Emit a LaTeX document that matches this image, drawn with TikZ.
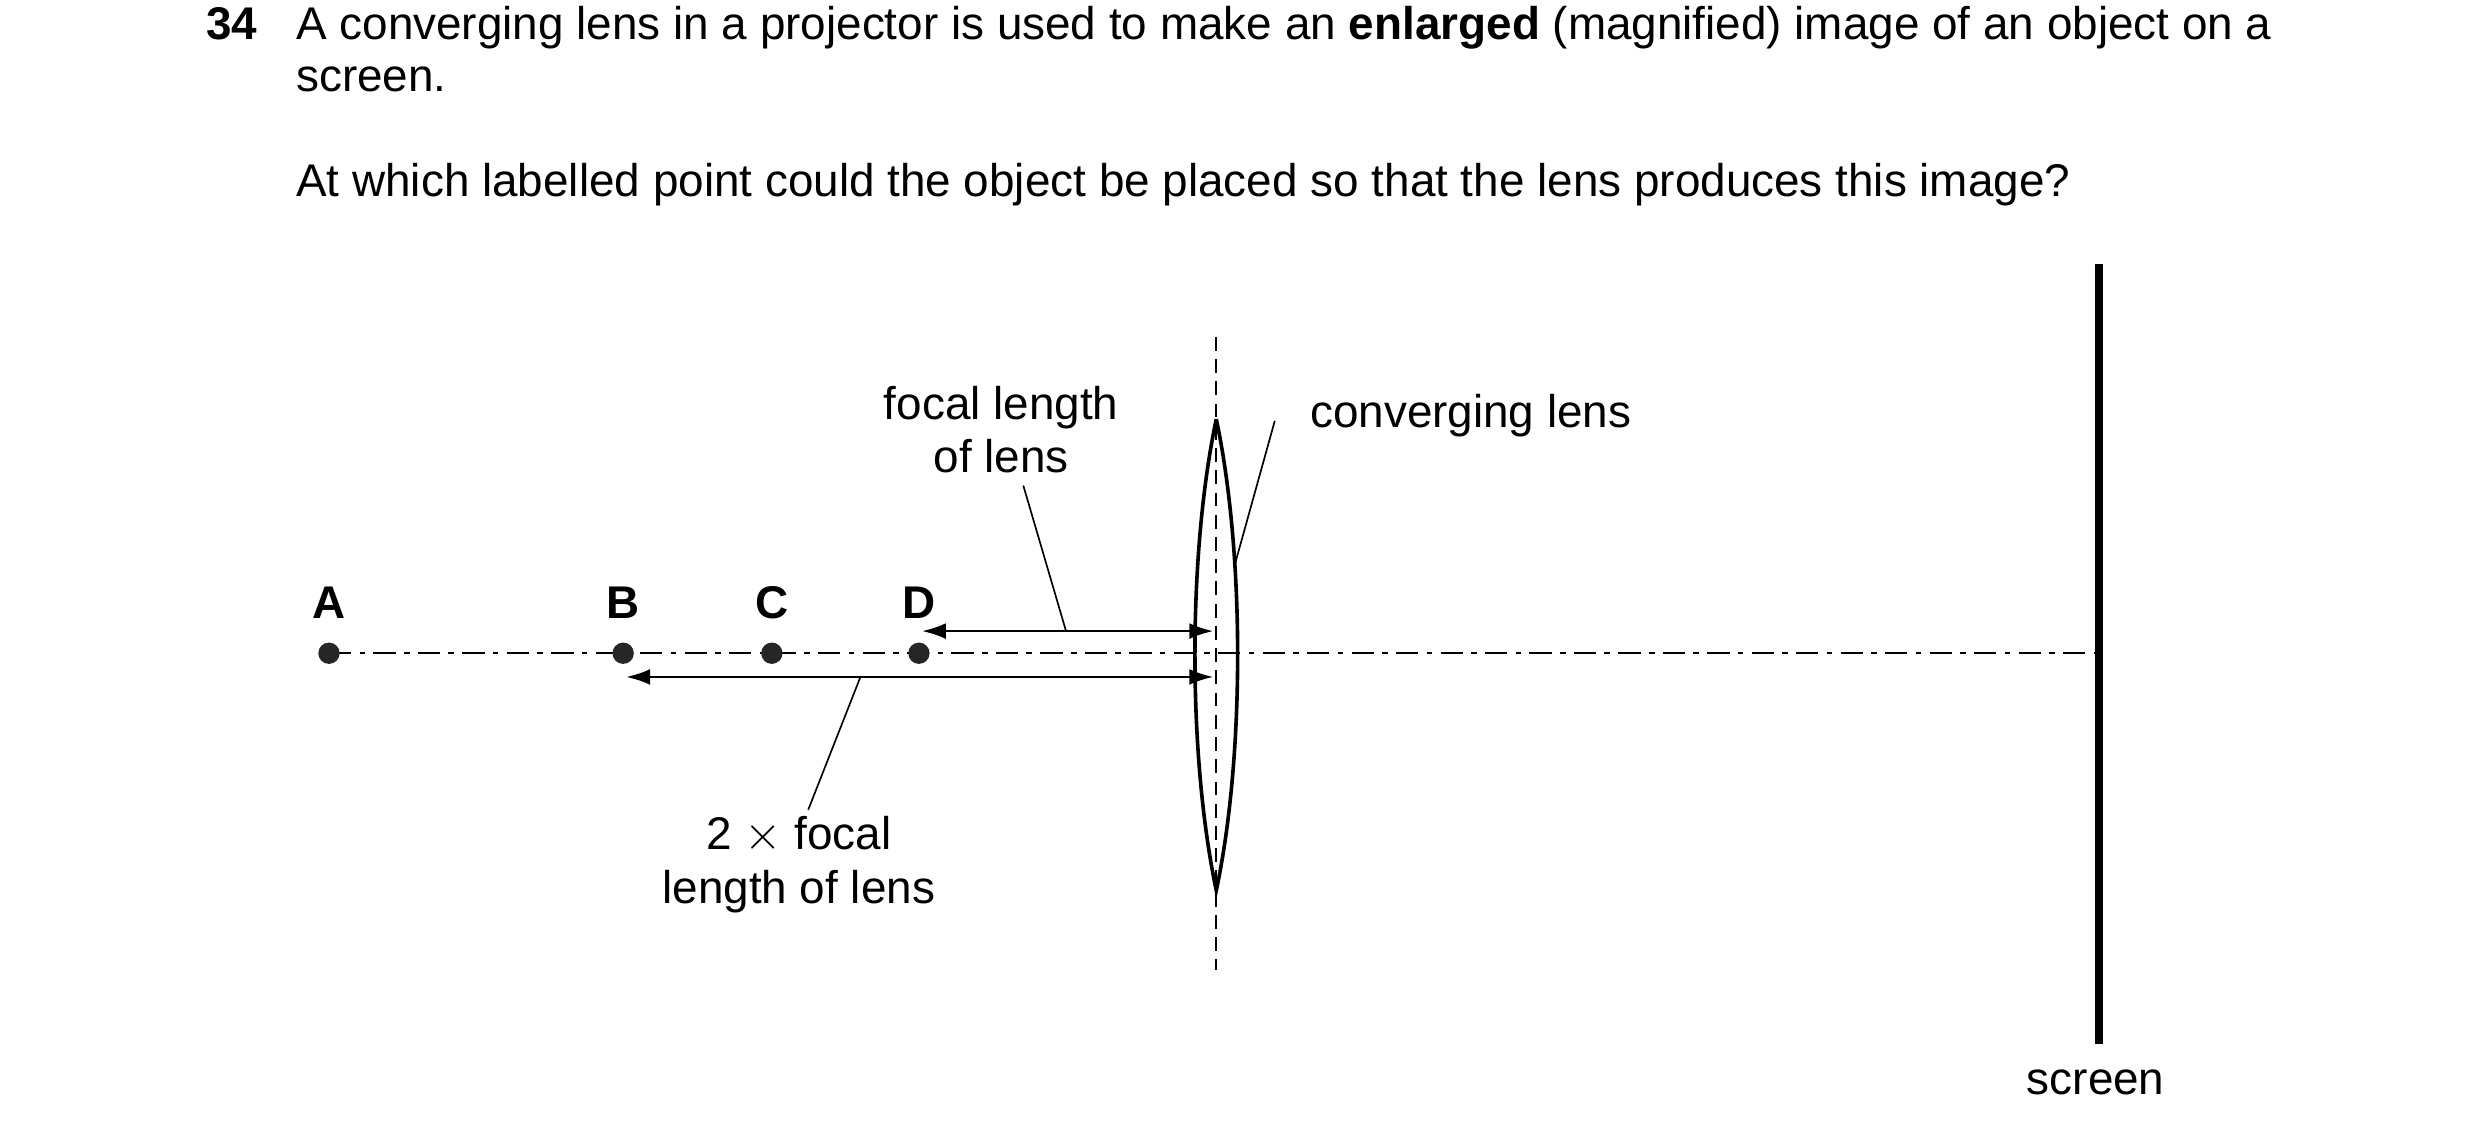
\documentclass[tikz,border=0pt]{standalone}
\usepackage{fontspec}
\setmainfont{Liberation Sans}
\usetikzlibrary{arrows.meta}
\begin{document}
\begin{tikzpicture}[x=0.02cm,y=-0.02cm,
  txt/.style={font=\fontsize{16.5}{19.3}\selectfont, inner sep=0pt},
  lbl/.style={font=\fontsize{16.5}{19.3}\selectfont\bfseries, inner sep=0pt},
  dot/.style={circle, fill=black!85, inner sep=0pt, minimum size=0.27cm},
  dim/.style={line width=0.8pt, {Latex[length=0.3cm,width=0.2cm]}-{Latex[length=0.3cm,width=0.2cm]}},
  lead/.style={line width=0.6pt}]
\useasboundingbox (0,0) rectangle (1568,718);
% question text
\node[txt, font=\fontsize{16.5}{19.3}\selectfont\bfseries, anchor=base west] (num) at (130,25) {34};
\node[txt, anchor=base west] (q1) at (187,25) {A converging lens in a projector is used to make an \textbf{enlarged} (magnified) image of an object on a};
\node[txt, anchor=base west] (q2) at (187,58) {screen.};
\node[txt, anchor=base west] (q3) at (187,124) {At which labelled point could the object be placed so that the lens produces this image?};
% axis
\coordinate (axL) at (208,413);
\coordinate (axR) at (1327,413);
\draw[line width=0.7pt, dash pattern=on 8pt off 3pt on 2pt off 3pt] (axL) -- (axR);
% lens
\coordinate (lt) at (769,265);
\coordinate (lb) at (769,563);
\draw[line width=1.3pt] (lt) .. controls (787,350) and (787,478) .. (lb)
  .. controls (751,478) and (751,350) .. (lt);
\coordinate (vt) at (769,213);
\coordinate (vb) at (769,613);
\draw[line width=0.6pt, dash pattern=on 5pt off 3pt] (vt) -- (vb);
% screen
\coordinate (st) at (1327,167);
\coordinate (sb) at (1327,660);
\draw[line width=2.8pt] (st) -- (sb);
\node[txt, anchor=base] (scr) at (1325,692) {screen};
% points
\node[dot] (A) at (208,413) {};
\node[dot] (B) at (394,413) {};
\node[dot] (C) at (488,413) {};
\node[dot] (D) at (581,413) {};
\node[lbl, anchor=base] at (208,391) {A};
\node[lbl, anchor=base] at (394,391) {B};
\node[lbl, anchor=base] at (488,391) {C};
\node[lbl, anchor=base] at (581,391) {D};
% dimension arrows
\coordinate (f1) at (583,399);
\coordinate (f2) at (767,399);
\draw[dim] (f1) -- (f2);
\coordinate (g1) at (396,428);
\coordinate (g2) at (767,428);
\draw[dim] (g1) -- (g2);
% labels
\node[txt, align=center, anchor=base] (fl) at (633,299) {focal length\\of lens};
\coordinate (fa) at (674,399);
\coordinate (fb) at (647,307);
\draw[lead] (fa) -- (fb);
\node[txt, align=center, anchor=base] (tf) at (505,571) {2 $\times$ focal\\length of lens};
\coordinate (ga) at (544,428);
\coordinate (gb) at (511,512);
\draw[lead] (ga) -- (gb);
\node[txt, anchor=base west] (cl) at (828,270) {converging lens};
\coordinate (ca) at (806,266);
\coordinate (cb) at (781,356);
\draw[lead] (ca) -- (cb);
\end{tikzpicture}
\end{document}
